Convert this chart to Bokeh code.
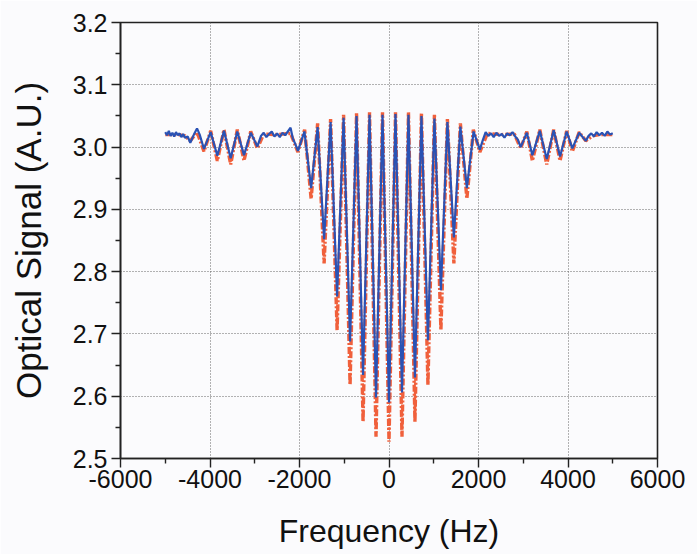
from bokeh.plotting import figure
from bokeh.models import FixedTicker, PrintfTickFormatter
from bokeh.embed import file_html
from bokeh.resources import INLINE

# Theory (red dash-dot) - extrema
theory_freq = [-5000, -4700, -4560, -4440, -4290, -4135, -3985, -3836, -3687, -3538, -3390, -3240,
               -3090, -2941, -2800, -2500, -2200, -2035, -1885, -1740, -1595, -1450, -1305, -1160,
               -1015, -870, -725, -580, -435, -290, -145, 0, 145, 290, 435, 580, 725, 870, 1015,
               1160, 1305, 1450, 1595, 1740, 1885, 2030, 2200, 2500, 2800, 2943, 3080, 3204, 3370,
               3525, 3680, 3822, 3970, 4098, 4250, 4396, 4550, 4700, 5000]
theory_signal = [3.020, 3.020, 3.018, 3.010, 3.024, 2.993, 3.026, 2.978, 3.028, 2.972, 3.028, 2.978,
                 3.025, 2.998, 3.021, 3.020, 3.022, 2.992, 3.028, 2.917, 3.038, 2.813, 3.045, 2.706,
                 3.052, 2.618, 3.055, 2.559, 3.056, 2.535, 3.056, 2.527, 3.056, 2.535, 3.056, 2.559,
                 3.055, 2.618, 3.052, 2.706, 3.045, 2.813, 3.038, 2.917, 3.028, 2.992, 3.022, 3.020,
                 3.021, 2.998, 3.025, 2.978, 3.028, 2.972, 3.028, 2.978, 3.026, 2.993, 3.024, 3.010,
                 3.018, 3.020, 3.020]

# Experiment (blue solid)
exp_freq = [-5000, -4960, -4920, -4880, -4840, -4800, -4760, -4720, -4680, -4640, -4600, -4560,
            -4500, -4440, -4360, -4290, -4230, -4135, -3985, -3836, -3687, -3538, -3390, -3240,
            -3090, -2941, -2860, -2800, -2740, -2680, -2620, -2560, -2500, -2440, -2380, -2320,
            -2260, -2200, -2150, -2100, -2035, -1890, -1740, -1595, -1450, -1305, -1160, -1015,
            -870, -725, -580, -435, -290, -145, 0, 145, 290, 435, 580, 725, 870, 1015, 1160,
            1305, 1450, 1595, 1740, 1890, 2030, 2100, 2160, 2220, 2280, 2340, 2400, 2460, 2520,
            2580, 2640, 2700, 2760, 2820, 2880, 2943, 3080, 3204, 3370, 3525, 3680, 3822, 3970,
            4098, 4250, 4396, 4460, 4520, 4580, 4640, 4700, 4760, 4820, 4880, 4940, 5000]
exp_signal = [3.024, 3.019, 3.026, 3.018, 3.023, 3.017, 3.024, 3.019, 3.022, 3.016, 3.021, 3.015,
              3.017, 3.007, 3.020, 3.030, 3.020, 2.997, 3.024, 2.986, 3.026, 2.982, 3.025, 2.987,
              3.023, 3.001, 3.018, 3.023, 3.016, 3.021, 3.025, 3.017, 3.022, 3.016, 3.023, 3.019,
              3.025, 3.031, 3.014, 3.006, 2.994, 3.025, 2.934, 3.032, 2.852, 3.040, 2.760, 3.047,
              2.688, 3.050, 2.634, 3.052, 2.598, 3.052, 2.590, 3.053, 2.606, 3.052, 2.630, 3.050,
              2.690, 3.046, 2.770, 3.040, 2.855, 3.033, 2.934, 3.025, 2.996, 3.012, 3.024, 3.018,
              3.022, 3.016, 3.023, 3.018, 3.021, 3.015, 3.022, 3.019, 3.024, 3.017, 3.012, 3.000,
              3.023, 2.987, 3.026, 2.981, 3.027, 2.985, 3.025, 2.998, 3.023, 3.010, 3.018, 3.022,
              3.017, 3.024, 3.019, 3.023, 3.018, 3.025, 3.020, 3.022]

x_ticks = [-6000, -4000, -2000, 0, 2000, 4000, 6000]
x_minor = [-5000, -3000, -1000, 1000, 3000, 5000]
y_ticks = [2.5, 2.6, 2.7, 2.8, 2.9, 3.0, 3.1, 3.2]
y_minor = [2.55, 2.65, 2.75, 2.85, 2.95, 3.05, 3.15]

bg = "#fbfbfd"
p = figure(width=697, height=554, x_range=(-6000, 6000), y_range=(2.5, 3.2),
           output_backend="svg", toolbar_location=None,
           min_border_left=120, min_border_right=40, min_border_top=22, min_border_bottom=96,
           background_fill_color=bg, border_fill_color=bg)
p.outline_line_color = "#222222"
p.outline_line_width = 1.6

p.line(theory_freq, theory_signal, line_color="#f0603c", line_width=3.4, line_dash="7 2 2 2")
p.line(exp_freq, exp_signal, line_color="#2a52b4", line_width=2.2)

for ax in (p.xaxis[0], p.yaxis[0]):
    ax.axis_line_color = "#222222"
    ax.axis_line_width = 1.6
    ax.major_tick_line_color = "#222222"
    ax.minor_tick_line_color = "#222222"
    ax.major_tick_line_width = 1.4
    ax.minor_tick_line_width = 1.4
    ax.major_tick_in = 0
    ax.major_tick_out = 9
    ax.minor_tick_in = 0
    ax.minor_tick_out = 5
    ax.major_label_text_font = "Liberation Sans"
    ax.major_label_text_font_size = "25px"
    ax.major_label_text_color = "#111111"
    ax.axis_label_text_font = "Liberation Sans"
    ax.axis_label_text_font_style = "normal"
    ax.axis_label_text_color = "#111111"

p.xaxis[0].ticker = FixedTicker(ticks=x_ticks, minor_ticks=x_minor)
p.yaxis[0].ticker = FixedTicker(ticks=y_ticks, minor_ticks=y_minor)
p.xaxis[0].formatter = PrintfTickFormatter(format="%d")
p.yaxis[0].formatter = PrintfTickFormatter(format="%.1f")
p.xaxis[0].axis_label = "Frequency (Hz)"
p.yaxis[0].axis_label = "Optical Signal (A.U.)"
p.xaxis[0].axis_label_text_font_size = "32px"
p.yaxis[0].axis_label_text_font_size = "35px"
p.xaxis[0].major_label_standoff = 2
p.yaxis[0].major_label_standoff = 4
p.xaxis[0].axis_label_standoff = 22
p.yaxis[0].axis_label_standoff = 22

p.xgrid[0].ticker = FixedTicker(ticks=[-4000, -2000, 0, 2000, 4000])
p.ygrid[0].ticker = FixedTicker(ticks=[2.6, 2.7, 2.8, 2.9, 3.0, 3.1])
for g in (p.xgrid[0], p.ygrid[0]):
    g.grid_line_color = "#666666"
    g.grid_line_dash = "1 2"
    g.grid_line_width = 1

open("out.html", "w").write(file_html(p, INLINE))
